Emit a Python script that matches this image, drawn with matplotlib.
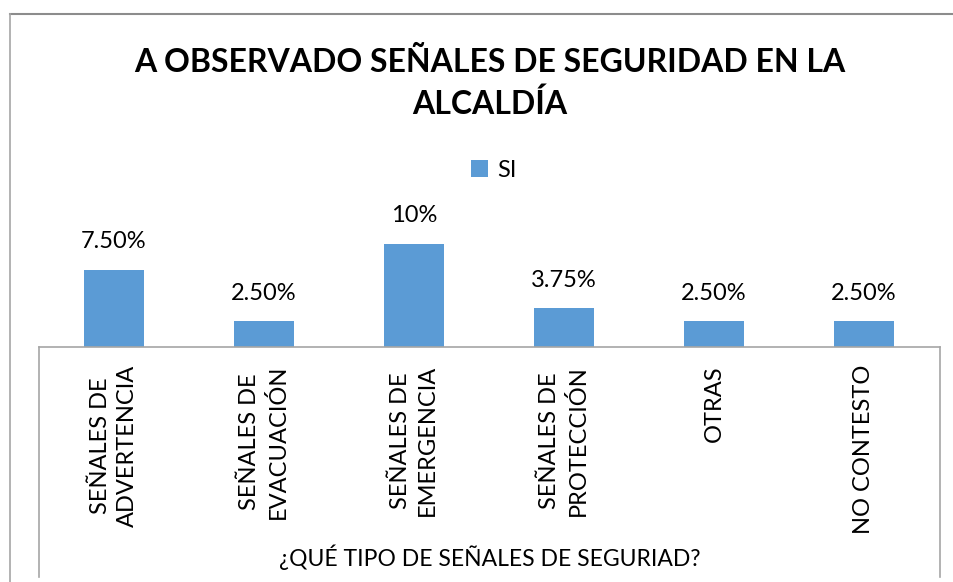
import matplotlib.pyplot as plt
from matplotlib.lines import Line2D

plt.rcParams['font.family'] = ['Lato', 'DejaVu Sans']

# datos de la encuesta
categorias = ['SEÑALES DE\nADVERTENCIA', 'SEÑALES DE\nEVACUACIÓN', 'SEÑALES DE\nEMERGENCIA',
              'SEÑALES DE\nPROTECCIÓN', 'OTRAS', 'NO CONTESTO']
valores_si = [0.075, 0.025, 0.10, 0.0375, 0.025, 0.025]
etiquetas = ['7.50%', '2.50%', '10%', '3.75%', '2.50%', '2.50%']

titulo = 'A OBSERVADO SEÑALES DE SEGURIDAD EN LA\nALCALDÍA'
titulo_eje = '¿QUÉ TIPO DE SEÑALES DE SEGURIAD?'

W, H = 954, 582
azul = '#5B9BD5'
gris = '#A6A6A6'

fig = plt.figure(figsize=(W / 100, H / 100), dpi=100)


def fx(px):
    return px / W


def fy(py):
    return 1 - py / H


# area del grafico: base de las barras en y=347 px
ax = fig.add_axes([fx(39), fy(347), fx(900), 155 / H])
x = range(len(categorias))
barras = ax.bar(x, valores_si, width=0.4, color=azul, label='SI')
for b, txt in zip(barras, etiquetas):
    ax.annotate(txt, (b.get_x() + b.get_width() / 2, b.get_height()),
                xytext=(0, 20), textcoords='offset points',
                ha='center', va='center', fontsize=17, color='black')
ax.set_xlim(-0.5, len(categorias) - 0.5)
ax.set_ylim(0, 0.15)
ax.axis('off')

# caja de las categorias
for xs, ys in [([39, 940], [347, 347]), ([39, 39], [347, 577]), ([940, 940], [347, 577])]:
    fig.add_artist(Line2D([fx(v) for v in xs], [fy(v) for v in ys], color=gris, lw=1.2))

# borde exterior
fig.add_artist(Line2D([fx(10), fx(954)], [fy(14), fy(14)], color='#8C8C8C', lw=1.5))
fig.add_artist(Line2D([fx(10), fx(10)], [fy(14), fy(582)], color='#A6A6A6', lw=1.2))

for i, cat in enumerate(categorias):
    fig.text(fx(39 + 75 + 150 * i), fy(365), cat, rotation=90, ha='center', va='top',
             multialignment='center', fontsize=17, linespacing=1.35)

fig.text(fx(490), fy(557), titulo_eje, ha='center', va='center', fontsize=16.5)

fig.text(fx(490), fy(83), titulo, ha='center', va='center', fontsize=23,
         fontweight='bold', linespacing=1.47)

# leyenda
fig.legend(handles=[barras], labels=['SI'], loc='center', bbox_to_anchor=(fx(494), fy(170)),
           frameon=False, fontsize=17, handlelength=0.7, handleheight=0.7, handletextpad=0.4)

fig.savefig('out.png', dpi=100, facecolor='white')
